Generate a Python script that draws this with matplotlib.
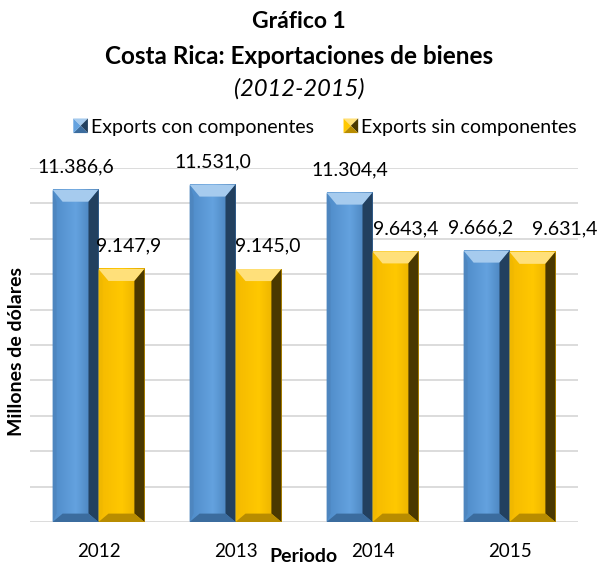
import matplotlib
matplotlib.use("Agg")
import matplotlib.pyplot as plt
import numpy as np
from matplotlib.patches import Polygon
from matplotlib.colors import LinearSegmentedColormap
from matplotlib.legend_handler import HandlerBase

plt.rcParams['font.family'] = ['Lato', 'DejaVu Sans']

# data
years = ['2012', '2013', '2014', '2015']
con_comp = [11386.6, 11531.0, 11304.4, 9666.2]
sin_comp = [9147.9, 9145.0, 9643.4, 9631.4]
series_names = ['Exports con componentes', 'Exports sin componentes']

# colour sets: base gradient (left, mid, right), top bevel, right bevel, bottom bevel, left bevel
blue = dict(grad=['#4F8CC9', '#64A2DF', '#3F76AE'], top='#A6CBEE', right='#22405F',
            bottom='#3B6C9E', left='#4E86BF')
gold = dict(grad=['#F5BA00', '#FFC800', '#E0A800'], top='#FFE07A', right='#4A3800',
            bottom='#B88C00', left='#F0B800')


def fmt(v):
    s = f"{v:,.1f}"
    return s.replace(',', 'X').replace('.', ',').replace('X', '.')


class BevelHandler(HandlerBase):
    def __init__(self, cols):
        super().__init__()
        self.cols = cols

    def create_artists(self, legend, orig_handle, xdescent, ydescent, width, height, fontsize, trans):
        c = self.cols
        x0, y0 = -xdescent, -ydescent
        s = min(width, height)
        x0 = x0 + (width - s) / 2
        cx, cy = x0 + s / 2, y0 + s / 2
        tris = [
            ([(x0, y0 + s), (x0 + s, y0 + s), (cx, cy)], c['top']),
            ([(x0 + s, y0 + s), (x0 + s, y0), (cx, cy)], c['right']),
            ([(x0, y0), (x0 + s, y0), (cx, cy)], c['bottom']),
            ([(x0, y0), (x0, y0 + s), (cx, cy)], c['grad'][1]),
        ]
        arts = []
        for pts, col in tris:
            p = Polygon(pts, closed=True, facecolor=col, edgecolor='none', transform=trans)
            arts.append(p)
        return arts


W, H = 598, 562
fig = plt.figure(figsize=(W / 100, H / 100), dpi=100)
ax = fig.add_axes([30 / W, 1 - 522 / H, 548 / W, 354 / H])

ymin, ymax = 2000, 12000
ax.set_xlim(-0.5, len(years) - 0.5)
ax.set_ylim(ymin, ymax)
ax.set_yticks(np.arange(ymin, ymax + 1, 1000))
ax.yaxis.grid(True, color='#D9D9D9', lw=1.3)
ax.set_axisbelow(True)
for sp in ax.spines.values():
    sp.set_visible(False)
ax.tick_params(axis='y', length=0, labelleft=False)
ax.tick_params(axis='x', length=0, pad=15, labelsize=13.5)

x = np.arange(len(years))
bw = 0.335
ax.set_xticks(x)
ax.set_xticklabels(years)

# bevel size in data units
px_x = (len(years)) / 548.0
px_y = (ymax - ymin) / 354.0
dx, dy = 10 * px_x, 12 * px_y

# label nudges (px) where excel pushed labels sideways
con_dx = [0, 0, 0, -6]
sin_dx = [7, 9, 10, 32]

def bevel_bar(xl, val, cols, nudge):
    xr = xl + bw
    yb, yt = ymin, val
    cmap = LinearSegmentedColormap.from_list('g', cols['grad'])
    grad = np.linspace(0, 1, 64)[None, :]
    ax.imshow(grad, cmap=cmap, extent=[xl, xr, yb, yt], aspect='auto', zorder=2,
              interpolation='bilinear')
    polys = [
        ([(xl, yt), (xr, yt), (xr - dx, yt - dy), (xl + dx, yt - dy)], cols['top']),
        ([(xr, yt), (xr, yb), (xr - dx, yb + dy * 0.7), (xr - dx, yt - dy)], cols['right']),
        ([(xl, yb), (xr, yb), (xr - dx, yb + dy * 0.7), (xl + dx, yb + dy * 0.7)], cols['bottom']),
        ([(xl, yb), (xl, yt), (xl + dx * 0.4, yt - dy), (xl + dx * 0.4, yb + dy * 0.7)], cols['left']),
    ]
    for pts, col in polys:
        ax.add_patch(Polygon(pts, closed=True, facecolor=col, edgecolor='none', zorder=3))
    ax.annotate(fmt(val), (xl + bw / 2, yt), xytext=(nudge * 0.72, 16.5), textcoords='offset points',
                ha='center', va='center', fontsize=14, color='#000000', zorder=5)

for i in range(len(years)):
    bevel_bar(x[i] - bw, con_comp[i], blue, con_dx[i])
    bevel_bar(x[i], sin_comp[i], gold, sin_dx[i])

ax.set_aspect('auto')
ax.set_xlim(-0.5, len(years) - 0.5)
ax.set_ylim(ymin, ymax)

# titles
fig.text(0.5, 1 - 22 / H, 'Gráfico 1', ha='center', va='center', fontsize=16.5, fontweight='bold')
fig.text(0.5, 1 - 56 / H, 'Costa Rica: Exportaciones de bienes', ha='center', va='center',
         fontsize=17.5, fontweight='bold')
fig.text(0.5, 1 - 89 / H, '(2012-2015)', ha='center', va='center', fontsize=17, style='italic')

fig.text(303 / W, 1 - 556 / H, 'Periodo', ha='center', va='center', fontsize=14, fontweight='bold')
fig.text(17 / W, 1 - 351 / H, 'Millones de dólares', ha='center', va='center', rotation=90,
         fontsize=14, fontweight='bold')

# legend
h1 = Polygon([(0, 0)], label=series_names[0])
h2 = Polygon([(0, 0)], label=series_names[1])
fig.legend([h1, h2], series_names, loc='center', bbox_to_anchor=(325 / W, 1 - 127 / H), ncol=2,
           frameon=False, fontsize=14, handlelength=0.78, handleheight=0.78, handletextpad=0.15,
           columnspacing=1.5, borderpad=0,
           handler_map={h1: BevelHandler(blue), h2: BevelHandler(gold)})

fig.savefig('out.png', dpi=100)
